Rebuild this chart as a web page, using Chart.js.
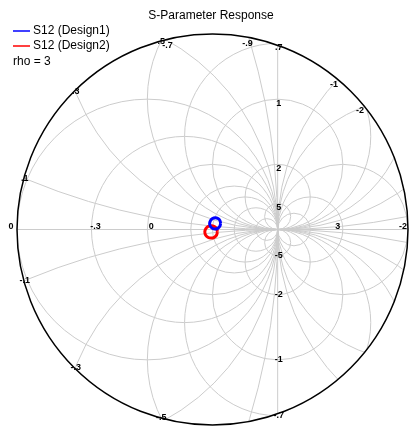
<!DOCTYPE html>
<html>
<head>
<meta charset="utf-8">
<title>S-Parameter Response</title>
<script src="https://cdn.jsdelivr.net/npm/chart.js@4.4.0/dist/chart.umd.min.js"></script>
<style>
    html, body { margin: 0; padding: 0; background: #ffffff; }
    #wrap { width: 409px; height: 428px; position: relative; }
</style>
</head>
<body>
<div id="wrap"><canvas id="smithChart"></canvas></div>
<script>
// Display radius of the chart (|Gamma| at the outer ring)
const rho = 3;

// Constant resistance / reactance circles of the grid
const rValues = [5, 2, 1, 0.5, 0, -0.3, -0.5, -0.7, -0.9, -1.3, -1.5, -2, -3, -5];
const xValues = [0.1, 0.3, 0.5, 0.7, 1, 2, 5];

// Tick labels
const axisTicks = [-0.5, -0.3, 0, -3, -2];             // r circles, on the real axis
const axisTickLabels = ['0', '-.3', '0', '3', '-2'];
const edgeRTicks = [-0.7, -0.9, -1.3, -1.5];           // r circles, on the outer ring
const edgeRTickLabels = ['-.7', '-.9', '-1', '-2'];
const edgeXTicks = [0.5, 0.3, 0.1, -0.1, -0.3, -0.5];  // x circles, on the outer ring
const edgeXTickLabels = ['.5', '.3', '.1', '-.1', '-.3', '-.5'];
const lineXTicks = [0.7, 1, 2, 5, -5, -2, -1, -0.7];   // x circles, on the r = -1 line
const lineXTickLabels = ['.7', '1', '2', '5', '-5', '-2', '-1', '-.7'];

// S12 traces (real / imaginary part of Gamma)
const design1Re = [0.125, 0.113, 0.084, 0.043, 0.000, -0.030, -0.044, -0.034, -0.004, 0.038, 0.080, 0.112, 0.125];
const design1Im = [0.094, 0.140, 0.170, 0.182, 0.170, 0.137, 0.093, 0.052, 0.020, 0.008, 0.018, 0.050, 0.094];
const design2Re = [0.076, 0.064, 0.030, -0.020, -0.070, -0.104, -0.118, -0.106, -0.072, -0.024, 0.026, 0.062, 0.076];
const design2Im = [-0.038, 0.010, 0.044, 0.058, 0.046, 0.012, -0.036, -0.084, -0.118, -0.132, -0.120, -0.086, -0.038];

const seriesNames = ['S12 (Design1)', 'S12 (Design2)'];
const seriesColors = ['#0000ff', '#ff0000'];

const gridColor = '#cccccc';
const labelFont = 'bold 9px "Liberation Sans", Arial, sans-serif';
const textFont = '12px "Liberation Sans", Arial, sans-serif';

function toPoints(re, im) {
    return re.map((u, i) => ({ x: u, y: im[i] }));
}

// where an x circle meets the outer ring (upper root for x > 0)
function edgeOfX(xv) {
    const a = 1 + 1 / (xv * xv);
    const b = -10 / xv;
    const disc = Math.sqrt(b * b - 64 * a);
    const v = xv > 0 ? (-b + disc) / (2 * a) : (-b - disc) / (2 * a);
    return { u: 5 - v / xv, v: v };
}

// where an r circle meets the outer ring (upper half)
function edgeOfR(r) {
    const u = 5 + 4 / r;
    return { u: u, v: Math.sqrt(rho * rho - u * u) };
}

const smithGrid = {
    id: 'smithGrid',
    beforeDatasetsDraw(chart) {
        const { ctx, scales: { x, y } } = chart;
        const cx = x.getPixelForValue(0);
        const cy = y.getPixelForValue(0);
        const unit = x.getPixelForValue(1) - cx;
        const R = unit * rho;

        ctx.save();
        ctx.beginPath();
        ctx.arc(cx, cy, R, 0, Math.PI * 2);
        ctx.clip();
        ctx.strokeStyle = gridColor;
        ctx.lineWidth = 1;

        // resistance circles
        rValues.forEach(r => {
            const c = r / (r + 1);
            const rad = 1 / Math.abs(r + 1);
            ctx.beginPath();
            ctx.arc(x.getPixelForValue(c), cy, rad * unit, 0, Math.PI * 2);
            ctx.stroke();
        });

        // reactance circles
        xValues.forEach(xv => {
            [xv, -xv].forEach(v => {
                ctx.beginPath();
                ctx.arc(x.getPixelForValue(1), y.getPixelForValue(1 / v), unit / Math.abs(v), 0, Math.PI * 2);
                ctx.stroke();
            });
        });

        // r = -1 line and the real axis
        ctx.beginPath();
        ctx.moveTo(x.getPixelForValue(1), cy - R);
        ctx.lineTo(x.getPixelForValue(1), cy + R);
        ctx.moveTo(cx - R, cy);
        ctx.lineTo(cx + R, cy);
        ctx.stroke();
        ctx.restore();

        // outer ring
        ctx.save();
        ctx.strokeStyle = '#000000';
        ctx.lineWidth = 1.5;
        ctx.beginPath();
        ctx.arc(cx, cy, R, 0, Math.PI * 2);
        ctx.stroke();
        ctx.restore();
    },
    afterDatasetsDraw(chart) {
        const { ctx, scales: { x, y } } = chart;
        const cx = x.getPixelForValue(0);
        const cy = y.getPixelForValue(0);

        ctx.save();
        ctx.font = labelFont;
        ctx.fillStyle = '#000000';
        ctx.textAlign = 'center';
        ctx.textBaseline = 'middle';

        // label pulled a little toward the centre
        const put = (text, u, v, pull) => {
            const px = x.getPixelForValue(u);
            const py = y.getPixelForValue(v);
            const dx = cx - px, dy = cy - py;
            const d = Math.hypot(dx, dy) || 1;
            ctx.fillText(text, px + dx / d * pull, py + dy / d * pull);
        };

        axisTicks.forEach((r, i) => {
            const g = (r - 1) / (r + 1);
            let px = x.getPixelForValue(g);
            if (g <= -rho) px -= 6;          // label left of the ring
            else if (g < 0) px += 4;
            else px -= 5;
            ctx.fillText(axisTickLabels[i], px, cy - 3);
        });
        edgeRTicks.forEach((r, i) => {
            const p = edgeOfR(r);
            put(edgeRTickLabels[i], p.u, p.v, 6);
        });
        edgeXTicks.forEach((xv, i) => {
            const p = edgeOfX(xv);
            put(edgeXTickLabels[i], p.u, p.v, 1);
        });
        lineXTicks.forEach((xv, i) => {
            ctx.fillText(lineXTickLabels[i], x.getPixelForValue(1) + 1, y.getPixelForValue(2 / xv) + (xv > 0 ? 4 : 0));
        });
        ctx.restore();
    },
    afterDraw(chart) {
        const { ctx } = chart;
        ctx.save();
        ctx.font = textFont;
        ctx.fillStyle = '#000000';
        ctx.textBaseline = 'middle';
        ctx.textAlign = 'center';
        ctx.fillText('S-Parameter Response', 211, 16);

        ctx.textAlign = 'left';
        seriesNames.forEach((name, i) => {
            const ly = 31 + i * 15;
            ctx.strokeStyle = seriesColors[i];
            ctx.lineWidth = 1.5;
            ctx.beginPath();
            ctx.moveTo(13, ly);
            ctx.lineTo(30, ly);
            ctx.stroke();
            ctx.fillText(name, 33, ly);
        });
        ctx.fillText('rho = ' + rho, 13, 62);
        ctx.restore();
    }
};

const ctx = document.getElementById('smithChart').getContext('2d');
const chart = new Chart(ctx, {
    type: 'scatter',
    data: {
        datasets: [
            {
                label: seriesNames[0],
                data: toPoints(design1Re, design1Im),
                showLine: true,
                borderColor: seriesColors[0],
                borderWidth: 3,
                pointRadius: 0,
                tension: 0.3
            },
            {
                label: seriesNames[1],
                data: toPoints(design2Re, design2Im),
                showLine: true,
                borderColor: seriesColors[1],
                borderWidth: 3,
                pointRadius: 0,
                tension: 0.3
            }
        ]
    },
    options: {
        responsive: true,
        maintainAspectRatio: false,
        animation: false,
        layout: { padding: { left: 17, right: 1, top: 34, bottom: 3 } },
        plugins: {
            legend: { display: false },
            title: { display: false },
            tooltip: { enabled: false }
        },
        scales: {
            x: { type: 'linear', min: -rho, max: rho, display: false },
            y: { type: 'linear', min: -rho, max: rho, display: false }
        }
    },
    plugins: [smithGrid]
});
</script>
</body>
</html>
